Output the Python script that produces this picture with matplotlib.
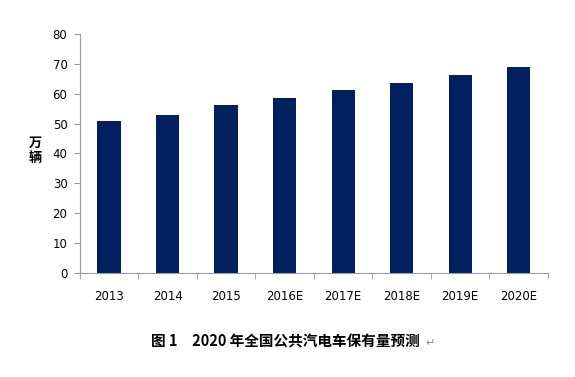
import matplotlib
matplotlib.use("Agg")
import matplotlib.pyplot as plt
from matplotlib.ticker import FixedLocator

plt.rcParams['font.family'] = ['Noto Sans CJK SC', 'DejaVu Sans']

categories = ["2013", "2014", "2015", "2016E", "2017E", "2018E", "2019E", "2020E"]
values = [50.8, 52.8, 56.2, 58.5, 61.2, 63.7, 66.2, 68.9]
yticks = [0, 10, 20, 30, 40, 50, 60, 70, 80]

fig = plt.figure(figsize=(5.75, 3.77), dpi=100)
ax = fig.add_axes([0.139, 0.276, 0.814, 0.634])

x = list(range(len(categories)))
ax.bar(x, values, width=0.4, color="#02205E", zorder=2)

ax.set_xlim(-0.5, len(categories) - 0.5)
ax.set_ylim(0, 80)
ax.set_yticks(yticks)
ax.set_xticks(x)
ax.set_xticklabels(categories, fontsize=8.5, family=['DejaVu Sans'])
ax.xaxis.set_minor_locator(FixedLocator([i - 0.5 for i in range(len(categories) + 1)]))
ax.tick_params(axis='x', which='major', length=0, pad=12)
ax.tick_params(axis='x', which='minor', length=4, color='#999999')
ax.tick_params(axis='y', length=4, color='#999999', labelsize=8.5, pad=5)
for lab in ax.get_yticklabels():
    lab.set_family(['DejaVu Sans'])

for s in ['top', 'right']:
    ax.spines[s].set_visible(False)
for s in ['left', 'bottom']:
    ax.spines[s].set_color('#999999')

fig.text(0.061, 0.60, "万\n辆", fontsize=9.5, fontweight='bold', ha='center', va='center', linespacing=1.1)
fig.text(0.497, 0.095, "图 1　2020 年全国公共汽电车保有量预测", fontsize=10.5, fontweight='bold',
         ha='center', va='center')
fig.text(0.740, 0.090, "↵", fontsize=8, color='#888888', ha='left', va='center', family=['DejaVu Sans'])

fig.savefig("out.png", dpi=100)
